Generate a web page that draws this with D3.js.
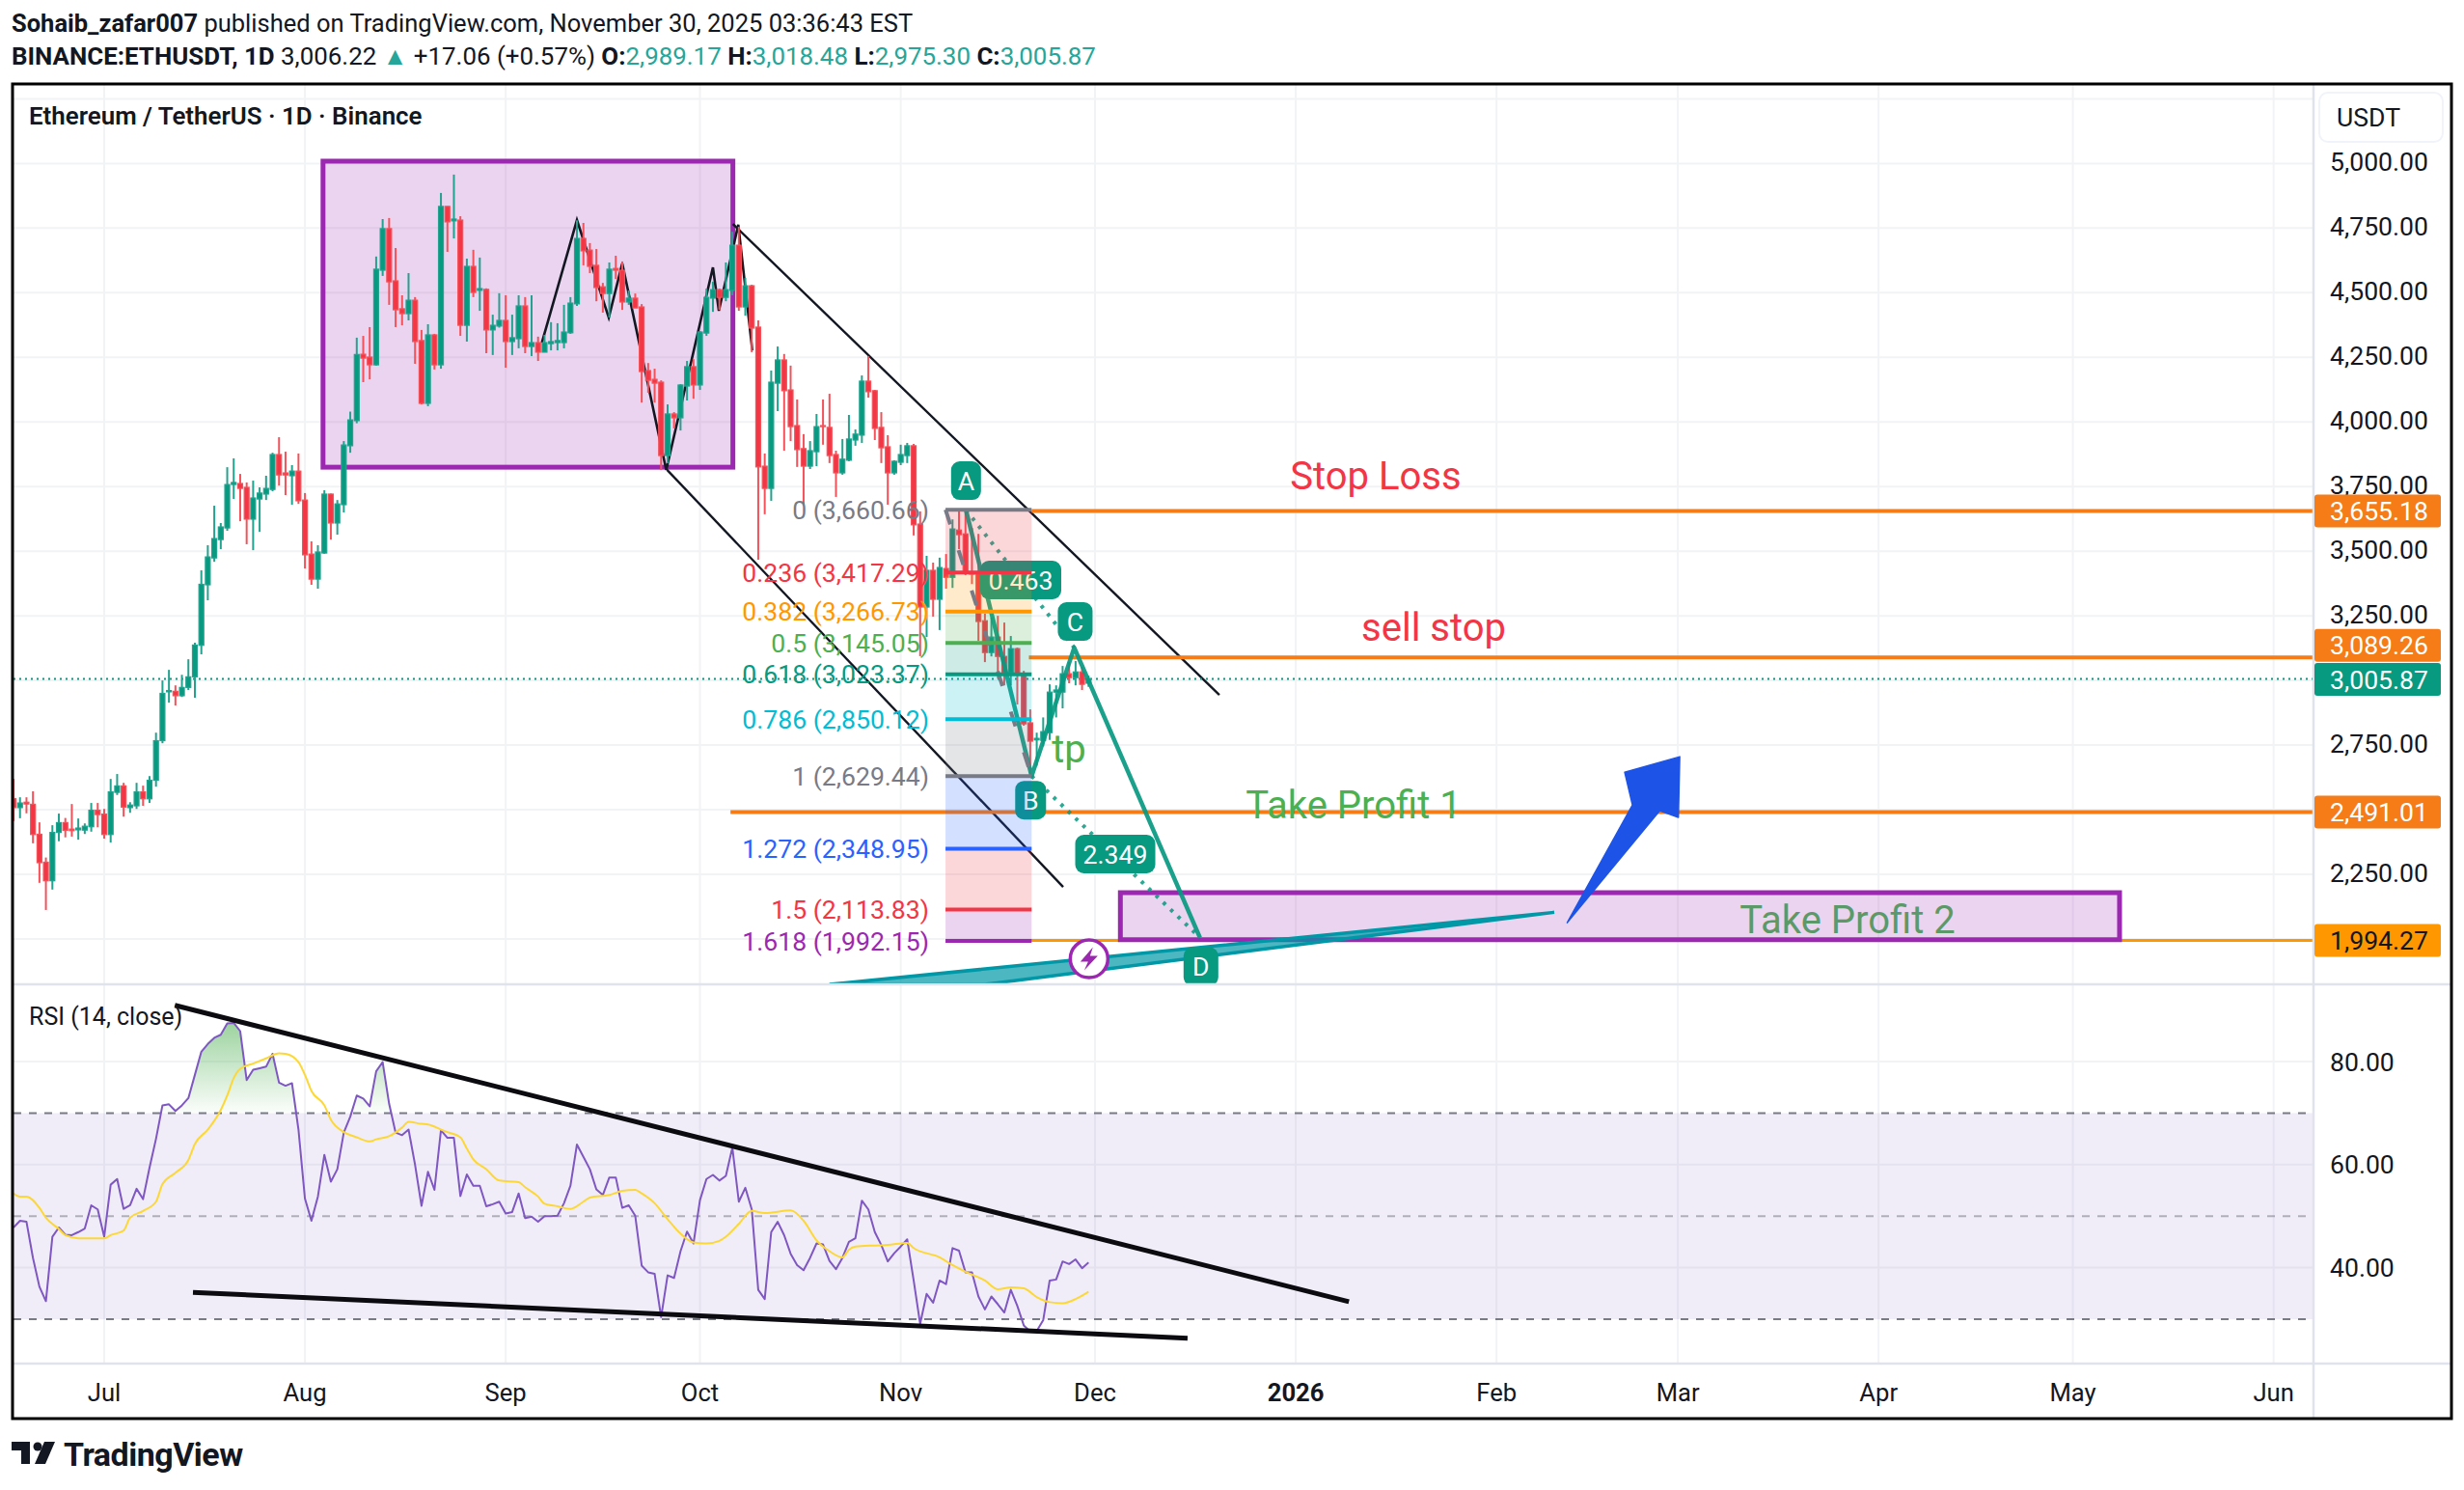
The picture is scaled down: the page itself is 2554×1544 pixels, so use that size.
<![CDATA[<!DOCTYPE html>
<html><head><meta charset="utf-8"><script src="https://cdn.jsdelivr.net/npm/d3@7"></script>
<style>html,body{margin:0;padding:0;background:#fff}svg{display:block}text{font-family:Roboto,sans-serif}</style></head>
<body><svg id="c" width="2554" height="1544"></svg>
<script>
// ---- values read from the picture ----
const firstBarOffset = -14; // first bar relative to 1 Jul 2025
const opens=[2543,2508,2529,2521,2405,2297,2225,2412,2450,2425,2422,2421,2434,2498,
2483,2404,2567,2592,2508,2515,2569,2542,2614,2767,2956,2958,2941,2973,3014,3136,3370,3474,3545,3590,3758,3762,3747,3624,3702,3721,3739,3874,3803,3792,3810,
3698,3489,3392,3493,3721,3609,3680,3908,4005,4262,4251,4221,4587,4748,4546,4438,4419,4471,4315,4072,4337,4221,4834,4778,4781,4374,4602,4509,4513,4356,4371,
4393,4311,4322,4449,4292,4307,4270,4303,4307,4307,4345,4457,4710,4665,4606,4523,4497,4594,4587,4464,4479,4445,4199,4165,4154,3870,4031,4016,4139,4214,
4143,4344,4479,4512,4482,4509,4684,4445,4527,4367,3829,3743,4150,4240,4124,3986,3897,3829,3885,3986,3979,3874,3803,3852,3930,3949,4158,4121,3979,3904,3803,
3844,3870,3908,3605,3284,3426,3314,3433,3399,3582,3567,3418,3414,3231,3108,3168,3093,3030,3123,3026,2836,2770,2768,2798,2955,2955,3026,3011,3033,2989.17];
const highs=[2620,2548,2548,2571,2451,2315,2440,2485,2468,2522,2466,2447,2526,2526,
2503,2619,2638,2604,2529,2604,2593,2630,2798,3000,3041,2981,3022,3082,3146,3426,3523,3676,3609,3825,3859,3799,3766,3773,3747,3792,3881,3941,3885,3833,3878,
3725,3538,3523,3736,3723,3698,3926,4040,4326,4333,4367,4640,4785,4789,4673,4490,4576,4483,4356,4378,4341,4886,4834,4957,4796,4632,4666,4636,4517,4415,4498,
4490,4415,4490,4483,4490,4330,4337,4386,4382,4453,4483,4780,4770,4692,4669,4538,4617,4643,4621,4509,4497,4456,4228,4206,4161,4068,4038,4146,4236,4243,
4352,4516,4543,4516,4617,4736,4755,4557,4531,4393,3878,4199,4292,4263,4218,4087,3953,3926,4031,4087,4109,3889,3934,4027,3971,4180,4255,4124,4038,3949,3852,
3912,3919,3915,3654,3482,3456,3475,3489,3623,3661,3653,3590,3567,3258,3243,3250,3224,3172,3127,3037,2888,2798,2857,2985,2981,3056,3071,3075,3052,3018.48];
const lows=[2456,2467,2486,2370,2217,2112,2191,2378,2393,2396,2384,2406,2415,2432,
2388,2373,2557,2473,2488,2503,2515,2526,2589,2757,2914,2903,2936,2963,2933,3101,3310,3459,3508,3579,3702,3616,3527,3504,3575,3698,3732,3754,3717,3680,3683,
3433,3370,3355,3490,3545,3564,3650,3881,3995,4154,4165,4218,4565,4453,4367,4374,4393,4225,4068,4061,4203,4206,4658,4710,4333,4311,4483,4430,4266,4259,4365,
4210,4259,4285,4266,4255,4236,4270,4277,4277,4285,4341,4449,4606,4576,4467,4423,4404,4553,4434,4453,4441,4075,4113,4075,3814,3840,3975,3967,4083,4090,
4124,4333,4426,4434,4467,4490,4430,4411,4270,3467,3643,3695,4042,3889,3926,3826,3676,3818,3829,3912,3841,3710,3796,3848,3908,3919,4094,3930,3841,3680,3796,
3833,3841,3561,3094,3168,3247,3195,3355,3358,3508,3407,3373,3153,3071,3093,3007,2981,2981,2907,2825,2626,2670,2745,2770,2857,2892,2989,2981,2963,2975.30];
const closes=[2508,2526,2522,2404,2295,2225,2412,2450,2420,2419,2429,2436,2498,2481,
2404,2569,2592,2510,2518,2569,2542,2614,2767,2950,2961,2941,2973,3014,3137,3372,3478,3549,3594,3758,3766,3743,3624,3706,3725,3743,3874,3795,3795,3810,3695,
3486,3392,3497,3721,3609,3683,3911,4008,4261,4247,4221,4591,4748,4542,4434,4419,4471,4311,4072,4337,4221,4834,4774,4785,4374,4602,4501,4516,4356,4374,4393,
4311,4326,4449,4292,4307,4270,4307,4311,4315,4348,4460,4710,4662,4602,4520,4497,4591,4587,4464,4479,4441,4195,4161,4150,3870,4031,4016,4143,4214,4143,
4348,4482,4512,4482,4512,4684,4445,4527,4363,3826,3743,4154,4240,4121,3982,3893,3829,3889,3982,3982,3870,3803,3856,3934,3953,4158,4117,3975,3900,3803,3848,
3874,3908,3602,3284,3426,3314,3437,3399,3586,3564,3414,3411,3228,3108,3168,3093,3030,3123,3022,2832,2765,2776,2802,2955,2963,3026,3011,3033,2985,3005.87];
const rsiValues=[47.8,49.1,48.9,41.9,36.3,33.5,46.0,47.8,46.4,46.3,46.9,47.6,52.1,51.3,
46.0,56.1,57.2,51.4,52.1,55.3,53.3,59.4,65.0,71.5,71.7,70.4,71.5,72.9,77.4,81.9,83.4,84.6,85.2,87.4,87.5,85.9,76.4,78.4,78.7,79.0,81.5,75.9,75.3,75.8,66.8,
53.4,49.1,53.8,61.9,56.7,59.1,66.2,69.3,73.4,72.8,71.3,78.1,79.9,71.8,66.2,65.7,66.8,60.0,52.0,58.6,55.1,66.7,65.2,65.2,53.9,58.1,55.9,55.9,51.9,52.3,52.8,
50.5,50.8,54.4,49.6,49.9,48.9,50.0,50.0,50.1,52.5,55.9,63.9,61.5,59.1,55.2,54.1,57.5,57.5,51.6,52.1,50.1,40.4,39.1,38.8,30.4,38.5,38.0,43.2,47.0,44.7,
53.1,57.2,58.0,56.9,57.8,63.3,52.8,55.5,51.3,35.7,33.9,46.9,48.9,46.3,42.7,40.5,39.5,41.9,44.7,44.5,41.3,39.7,41.9,45.0,45.7,53.0,51.3,46.9,44.4,41.2,42.8,
44.1,45.5,37.5,29.1,34.9,33.2,37.5,36.8,43.8,43.3,39.1,39.1,34.4,31.9,34.4,32.9,31.3,35.7,32.6,28.8,27.6,27.7,29.8,37.5,37.7,41.2,40.7,41.6,39.9,41.0];
const rsiMaDays=[-14,-13,-12,-10,-9,-7,-6,-4,-2,0,1,3,4,6,8,9,11,13,14,16,18,19,20,21,23,25,27,28,30,31,32,34,35,37,39,41,42,44,46,47,49,50,52,53,55,56,57,59,61,64,65,67,68,70,72,74,75,78,80,82,83,85,87,89,91,93,95,96,98,100,102,106,108,110,112,114,115,116,119,121,124,125,129,131,133,136,138,140,142,144,146,148,150,152];
const rsiMaValues=[54.4,53.8,53.8,51.6,49.7,47.5,46.3,45.7,45.7,45.7,46.3,47.2,49.7,51.0,52.8,56.2,58.4,60.9,64.0,66.8,70.6,73.4,76.8,78.6,79.6,80.6,81.6,81.5,79.9,77.4,74.3,71.5,68.7,66.3,65.3,64.5,64.9,65.5,67.2,68.3,67.9,67.8,66.8,66.3,65.3,63.1,61.0,59.1,56.9,56.6,55.6,53.8,52.4,51.9,51.4,52.8,53.6,54.1,54.9,55.1,54.4,52.5,49.4,46.6,44.9,44.7,45.2,46.0,48.5,51.0,50.6,51.1,49.1,45.3,43.2,42.0,43.5,44.1,44.3,44.4,44.8,43.8,42.0,40.5,39.2,37.5,35.8,36.2,36.0,34.3,33.3,33.1,33.9,35.3];

const priceGrid=[5250,5000,4750,4500,4250,4000,3750,3500,3250,3000,2750,2500,2250,2000];
const priceTicks=[5000,4750,4500,4250,4000,3750,3500,3250,2750,2250];
const rsiTicks=[80,60,40];
const rsiDashed=[70,50,30];
const monthDates=["2025-07-01","2025-08-01","2025-09-01","2025-10-01","2025-11-01","2025-12-01","2026-01-01","2026-02-01","2026-03-01","2026-04-01","2026-05-01","2026-06-01"];
const monthLabels=["Jul","Aug","Sep","Oct","Nov","Dec","2026","Feb","Mar","Apr","May","Jun"];

const fibRatios=[0,0.236,0.382,0.5,0.618,0.786,1,1.272,1.5,1.618];
const fibPrices=[3660.66,3417.29,3266.73,3145.05,3023.37,2850.12,2629.44,2348.95,2113.83,1992.15];
const fibColors=["#787b86","#f23645","#ff9800","#4caf50","#089981","#00bcd4","#787b86","#2962ff","#f23645","#9c27b0"];
const fibBandColors=["#f23645","#ff9800","#4caf50","#089981","#00bcd4","#787b86","#2962ff","#f23645","#9c27b0"];
const fibDays=[129.9,143.2];

const levelPrices=[3655.18,3089.26,2491.01,1994.27];
const levelStarts=[143.2,142.8,96.7,142.8];
const levelColors=["#f57c17","#f57c17","#f57c17","#ff9800"];
const levelWidths=[4,4,4,3];
const levelTextColors=["#fff","#fff","#fff","#131722"];
const levelBadgeShift=[0,-12.5,0,0];
const lastPrice=3005.87;

const channelUpper=[[97.1,4766],[172.2,2944]];
const channelLower=[[86.9,3815],[148.1,2201]];
const zigzag=[[67.6,4307],[73.0,4781],[77.9,4404],[80.0,4613],[86.8,3814],[94.0,4598],[94.9,4430],[97.9,4763],[100.1,4277]];
const rangeBox=[[33.8,5009],[97.1,3825]];
const targetBox=[[156.9,2179],[311.2,1997]];
const abcd=[[133.1,3659],[143.2,2630],[149.8,3127],[169.2,2005]];
const abcdNames=["A","B","C","D"];
const wedge=[[223.9,2103],[112.0,1824],[136.0,1824]];
const blueArrow=[[225.9,2063],[236.0,2518],[234.8,2645],[243.3,2705],[243.1,2470],[240.2,2496]];
const signalPoint=[152.1,1923];
const rsiUpperLine=[[10.9,90.9],[192.2,33.4]];
const rsiLowerLine=[[13.7,35.2],[167.3,26.3]];

// ---- layout ----
const L=14,R=2398,FR=2541,T=88,PB=1020,RT=1021,RB=1413,FB=1470;
const svg=d3.select("#c");
const t0=new Date(Date.UTC(2025,6,1));
const dayToDate=d=>d3.utcHour.offset(t0,Math.round(d*24));
const xTime=d3.scaleUtc().domain([t0,new Date(Date.UTC(2025,11,1))]).range([108,1135]);
const x=d=>xTime(dayToDate(d));
const y=d3.scaleLinear().domain([5000,2250]).range([169.4,906]);
const yr=d3.scaleLinear().domain([80,30]).range([1100,1367]);
const fmt=d3.format(",.2f");
const days=opens.map((_,i)=>firstBarOffset+i);

const defs=svg.append("defs");
defs.append("clipPath").attr("id","pc").append("rect").attr("x",L).attr("y",T).attr("width",R-L).attr("height",PB-T);
defs.append("clipPath").attr("id","rc").append("rect").attr("x",L).attr("y",RT).attr("width",R-L).attr("height",RB-RT);
const grad=defs.append("linearGradient").attr("id","ob").attr("x1",0).attr("x2",0).attr("y1",0).attr("y2",1).attr("gradientUnits","objectBoundingBox");
grad.append("stop").attr("offset",0).attr("stop-color","#4caf50").attr("stop-opacity",.55);
grad.append("stop").attr("offset",1).attr("stop-color","#4caf50").attr("stop-opacity",.02);

// grid
const grid=svg.append("g").attr("stroke","#f2f3f5").attr("stroke-width",2);
monthDates.forEach(s=>{const gx=xTime(new Date(s+"T00:00:00Z"));
 grid.append("line").attr("x1",gx).attr("x2",gx).attr("y1",T).attr("y2",RB);});
priceGrid.forEach(p=>grid.append("line").attr("x1",L).attr("x2",R).attr("y1",y(p)).attr("y2",y(p)));
rsiTicks.forEach(p=>grid.append("line").attr("x1",L).attr("x2",R).attr("y1",yr(p)).attr("y2",yr(p)));

// price pane
const main=svg.append("g").attr("clip-path","url(#pc)");
const line=d3.line().x(d=>x(d[0])).y(d=>y(d[1]));
// range box
main.append("rect").attr("x",x(rangeBox[0][0])).attr("y",y(rangeBox[0][1])).attr("width",x(rangeBox[1][0])-x(rangeBox[0][0])).attr("height",y(rangeBox[1][1])-y(rangeBox[0][1]))
 .attr("fill","rgba(156,39,176,.2)").attr("stroke","#9c27b0").attr("stroke-width",5);
main.append("path").attr("d",line(zigzag)).attr("fill","none").attr("stroke","#131722").attr("stroke-width",2.6);
[channelUpper,channelLower].forEach(c=>main.append("path").attr("d",line(c)).attr("fill","none").attr("stroke","#131722").attr("stroke-width",2.4));

// price line
main.append("line").attr("x1",L).attr("x2",R).attr("y1",y(lastPrice)).attr("y2",y(lastPrice)).attr("stroke","#089981").attr("stroke-width",2).attr("stroke-dasharray","2 4");

// candles
const cg=main.append("g");
days.forEach((d,i)=>{
 const up=closes[i]>=opens[i];
 const edge=up?"#22a28f":"#f4525a", fill=up?"#089981":"#f23645", cx=x(d);
 cg.append("line").attr("x1",cx).attr("x2",cx).attr("y1",y(highs[i])).attr("y2",y(lows[i])).attr("stroke",edge).attr("stroke-width",2);
 const top=y(Math.max(opens[i],closes[i])), bot=y(Math.min(opens[i],closes[i]));
 cg.append("rect").attr("x",cx-2.5).attr("width",5).attr("y",top).attr("height",Math.max(bot-top,.6)).attr("fill",fill).attr("stroke",edge).attr("stroke-width",1.2);
});

// horizontal levels
levelPrices.forEach((p,i)=>main.append("line").attr("x1",x(levelStarts[i])).attr("x2",R).attr("y1",y(p)).attr("y2",y(p)).attr("stroke",levelColors[i]).attr("stroke-width",levelWidths[i]));
// target box
main.append("rect").attr("x",x(targetBox[0][0])).attr("y",y(targetBox[0][1])).attr("width",x(targetBox[1][0])-x(targetBox[0][0])).attr("height",y(targetBox[1][1])-y(targetBox[0][1]))
 .attr("fill","rgba(156,39,176,.2)").attr("stroke","#9c27b0").attr("stroke-width",5);

// wedge + arrow
main.append("path").attr("d",line(wedge)+"Z").attr("fill","rgba(0,151,167,.7)").attr("stroke","#0097a7").attr("stroke-width",3.5);
main.append("path").attr("d",line(blueArrow)+"Z").attr("fill","#1d53e6").attr("stroke","#1d53e6").attr("stroke-width",1.5).attr("stroke-linejoin","round");

// ABCD
[[0,2],[1,3]].forEach(a=>main.append("line").attr("x1",x(abcd[a[0]][0])).attr("y1",y(abcd[a[0]][1])).attr("x2",x(abcd[a[1]][0])).attr("y2",y(abcd[a[1]][1]))
 .attr("stroke","#089981").attr("stroke-width",4).attr("stroke-dasharray","3.5 7").attr("opacity",.85));
main.append("path").attr("d",line(abcd)).attr("fill","none").attr("stroke","#089981").attr("stroke-width",4.5).attr("stroke-linejoin","round").attr("opacity",.92);
function tag(cx,cy,w,h,label,fs){
 main.append("rect").attr("x",cx-w/2).attr("y",cy-h/2).attr("width",w).attr("height",h).attr("rx",9).attr("fill","#089981");
 main.append("text").attr("x",cx).attr("y",cy).attr("dy",".36em").attr("text-anchor","middle").attr("fill","#fff").attr("font-size",fs).text(label);
}
const tagOff=[[0,-30.5],[-1,25],[1,-27],[1,30]];
abcd.forEach((p,i)=>tag(x(p[0])+tagOff[i][0],y(p[1])+tagOff[i][1],[31,32,36,36][i],40,abcdNames[i],26.6));
tag(1058,601,84,40,"0.463",26.6);
tag(1156,885,83,40,"2.349",26.6);

// fib bands over the pattern
fibBandColors.forEach((c,i)=>main.append("rect").attr("x",x(fibDays[0])).attr("width",x(fibDays[1])-x(fibDays[0])).attr("y",y(fibPrices[i])).attr("height",y(fibPrices[i+1])-y(fibPrices[i])).attr("fill",c).attr("opacity",.2));
main.append("line").attr("x1",x(fibDays[0])).attr("y1",y(fibPrices[0])).attr("x2",x(fibDays[1])).attr("y2",y(fibPrices[6])).attr("stroke","#787b86").attr("stroke-width",4).attr("stroke-dasharray","16 28");
fibPrices.forEach((p,i)=>{
 main.append("line").attr("x1",x(fibDays[0])).attr("x2",x(fibDays[1])).attr("y1",y(p)).attr("y2",y(p)).attr("stroke",fibColors[i]).attr("stroke-width",4);
 main.append("text").attr("x",963).attr("y",y(p)).attr("dy",".36em").attr("text-anchor","end").attr("fill",fibColors[i]).attr("font-size",26.6).text(`${fibRatios[i]} (${fmt(p)})`);
});

// signal circle
const sx=x(signalPoint[0]), sy=y(signalPoint[1]);
main.append("circle").attr("cx",sx).attr("cy",sy).attr("r",19.5).attr("fill","#fff").attr("stroke","#9c27b0").attr("stroke-width",3.5);
main.append("path").attr("transform",`translate(${sx},${sy})`).attr("d","M4,-12 L-9,3 L-1,3 L-5,12 L9,-3 L1,-3 Z").attr("fill","#9c27b0");

// annotation text
const note=(txt,cx,cy,col,fs)=>main.append("text").attr("x",cx).attr("y",cy).attr("dy",".36em").attr("text-anchor","middle").attr("fill",col).attr("font-size",fs).text(txt);
note("Stop Loss",1426,493,"#f23645",40);
note("sell stop",1486,650,"#f23645",40);
note("Take Profit 1",1403,834,"#4caf50",40);
note("Take Profit 2",1915,953,"#5b9a68",40);
note("tp",1108,776,"#4caf50",40);
main.append("text").attr("x",30).attr("y",120).attr("dy",".36em").attr("fill","#131722").attr("font-size",25.9).attr("font-weight",600).text("Ethereum / TetherUS · 1D · Binance");

// RSI pane
const rp=svg.append("g").attr("clip-path","url(#rc)");
const rl=d3.line().x(d=>x(d[0])).y(d=>yr(d[1]));
const rsiPts=days.map((d,i)=>[d,rsiValues[i]]);
rp.append("rect").attr("x",L).attr("width",R-L).attr("y",yr(70)).attr("height",yr(30)-yr(70)).attr("fill","#7e57c2").attr("opacity",.11);
rsiDashed.forEach(v=>rp.append("line").attr("x1",L).attr("x2",R).attr("y1",yr(v)).attr("y2",yr(v)).attr("stroke",v===50?"rgba(120,123,134,.55)":"#787b86").attr("stroke-width",2).attr("stroke-dasharray","8 8"));
const ovClip=defs.append("clipPath").attr("id","ovc").append("rect").attr("x",L).attr("width",R-L).attr("y",yr(100)).attr("height",yr(70)-yr(100));
rp.append("g").attr("clip-path","url(#ovc)").append("path")
 .attr("d",d3.area().x(d=>x(d[0])).y0(yr(70)).y1(d=>yr(Math.max(d[1],70)))(rsiPts)).attr("fill","url(#ob)");
rp.append("path").attr("d",rl(rsiPts)).attr("fill","none").attr("stroke","#7e57c2").attr("stroke-width",2).attr("stroke-linejoin","round");
rp.append("path").attr("d",d3.line().curve(d3.curveMonotoneX).x(d=>x(d[0])).y(d=>yr(d[1]))(rsiMaDays.map((d,i)=>[d,rsiMaValues[i]]))).attr("fill","none").attr("stroke","#fdd835").attr("stroke-width",2);
[rsiUpperLine,rsiLowerLine].forEach(l=>rp.append("path").attr("d",rl(l)).attr("fill","none").attr("stroke","#0b0b10").attr("stroke-width",5));
rp.append("text").attr("x",30).attr("y",1053).attr("dy",".36em").attr("fill","#131722").attr("font-size",25).text("RSI (14, close)");

// separators
const sep=svg.append("g").attr("stroke","#e0e3eb").attr("stroke-width",2.5);
sep.append("line").attr("x1",L).attr("x2",FR).attr("y1",PB).attr("y2",PB);
sep.append("line").attr("x1",L).attr("x2",FR).attr("y1",RB).attr("y2",RB);
sep.append("line").attr("x1",R).attr("x2",R).attr("y1",T).attr("y2",FB);

// axes
const ax=svg.append("g");
priceTicks.forEach(p=>ax.append("text").attr("x",2415).attr("y",y(p)-1.5).attr("dy",".36em").attr("fill","#131722").attr("font-size",26.6).text(fmt(p)));
rsiTicks.forEach(v=>ax.append("text").attr("x",2415).attr("y",yr(v)).attr("dy",".36em").attr("fill","#131722").attr("font-size",26.6).text(fmt(v)));
ax.append("rect").attr("x",2404).attr("y",96).attr("width",128).attr("height",51).attr("rx",9).attr("fill","#fff").attr("stroke","#f0f3fa").attr("stroke-width",2);
ax.append("text").attr("x",2422).attr("y",121.5).attr("dy",".36em").attr("fill","#131722").attr("font-size",26.6).text("USDT");
function badge(p,bg,fg,shift){
 const by=y(p)+shift;
 ax.append("rect").attr("x",R+1).attr("y",by-17).attr("width",131).attr("height",34).attr("rx",3).attr("fill",bg);
 ax.append("text").attr("x",2415).attr("y",by).attr("dy",".36em").attr("fill",fg).attr("font-size",26.6).text(fmt(p));
}
levelPrices.forEach((p,i)=>badge(p,levelColors[i],levelTextColors[i],levelBadgeShift[i]));
badge(lastPrice,"#089981","#fff",0.5);
monthDates.forEach((s,i)=>ax.append("text").attr("x",xTime(new Date(s+"T00:00:00Z"))).attr("y",1443).attr("dy",".36em").attr("text-anchor","middle")
 .attr("fill","#131722").attr("font-size",25.6).attr("font-weight",monthLabels[i]==="2026"?700:400).text(monthLabels[i]));

// frame
svg.append("rect").attr("x",L-1).attr("y",T-1).attr("width",FR-L+1).attr("height",FB-T+1).attr("fill","none").attr("stroke","#000").attr("stroke-width",3);

// header
const h1=svg.append("text").attr("x",12).attr("y",24).attr("dy",".36em").attr("font-size",25.5).attr("fill","#131722");
h1.append("tspan").attr("font-weight",700).text("Sohaib_zafar007");
h1.append("tspan").text(" published on TradingView.com, November 30, 2025 03:36:43 EST");
const h2=svg.append("text").attr("x",12).attr("y",58).attr("dy",".36em").attr("font-size",25.9).attr("fill","#131722");
const segs=[["BINANCE:ETHUSDT, 1D",1],["  3,006.22 ",0],["▲",2],[" +17.06 (+0.57%) ",0],["O:",1],["2,989.17",2],[" H:",1],["3,018.48",2],[" L:",1],["2,975.30",2],[" C:",1],["3,005.87",2]];
segs.forEach(s=>{const t=h2.append("tspan").text(s[0]); if(s[1]===1)t.attr("font-weight",700); if(s[1]===2)t.attr("fill","#26a69a");});

// logo
const lg=svg.append("g").attr("fill","#131722");
lg.append("path").attr("d","M12,1494 H31 V1517 H22 V1503 H12 Z");
lg.append("circle").attr("cx",39).attr("cy",1499).attr("r",4.5);
lg.append("path").attr("d","M46,1494 H57 L47,1517 H36 Z");
lg.append("text").attr("x",66).attr("y",1507).attr("dy",".36em").attr("font-size",34).attr("font-weight",700).attr("letter-spacing",-.5).text("TradingView");
</script></body></html>]]>
